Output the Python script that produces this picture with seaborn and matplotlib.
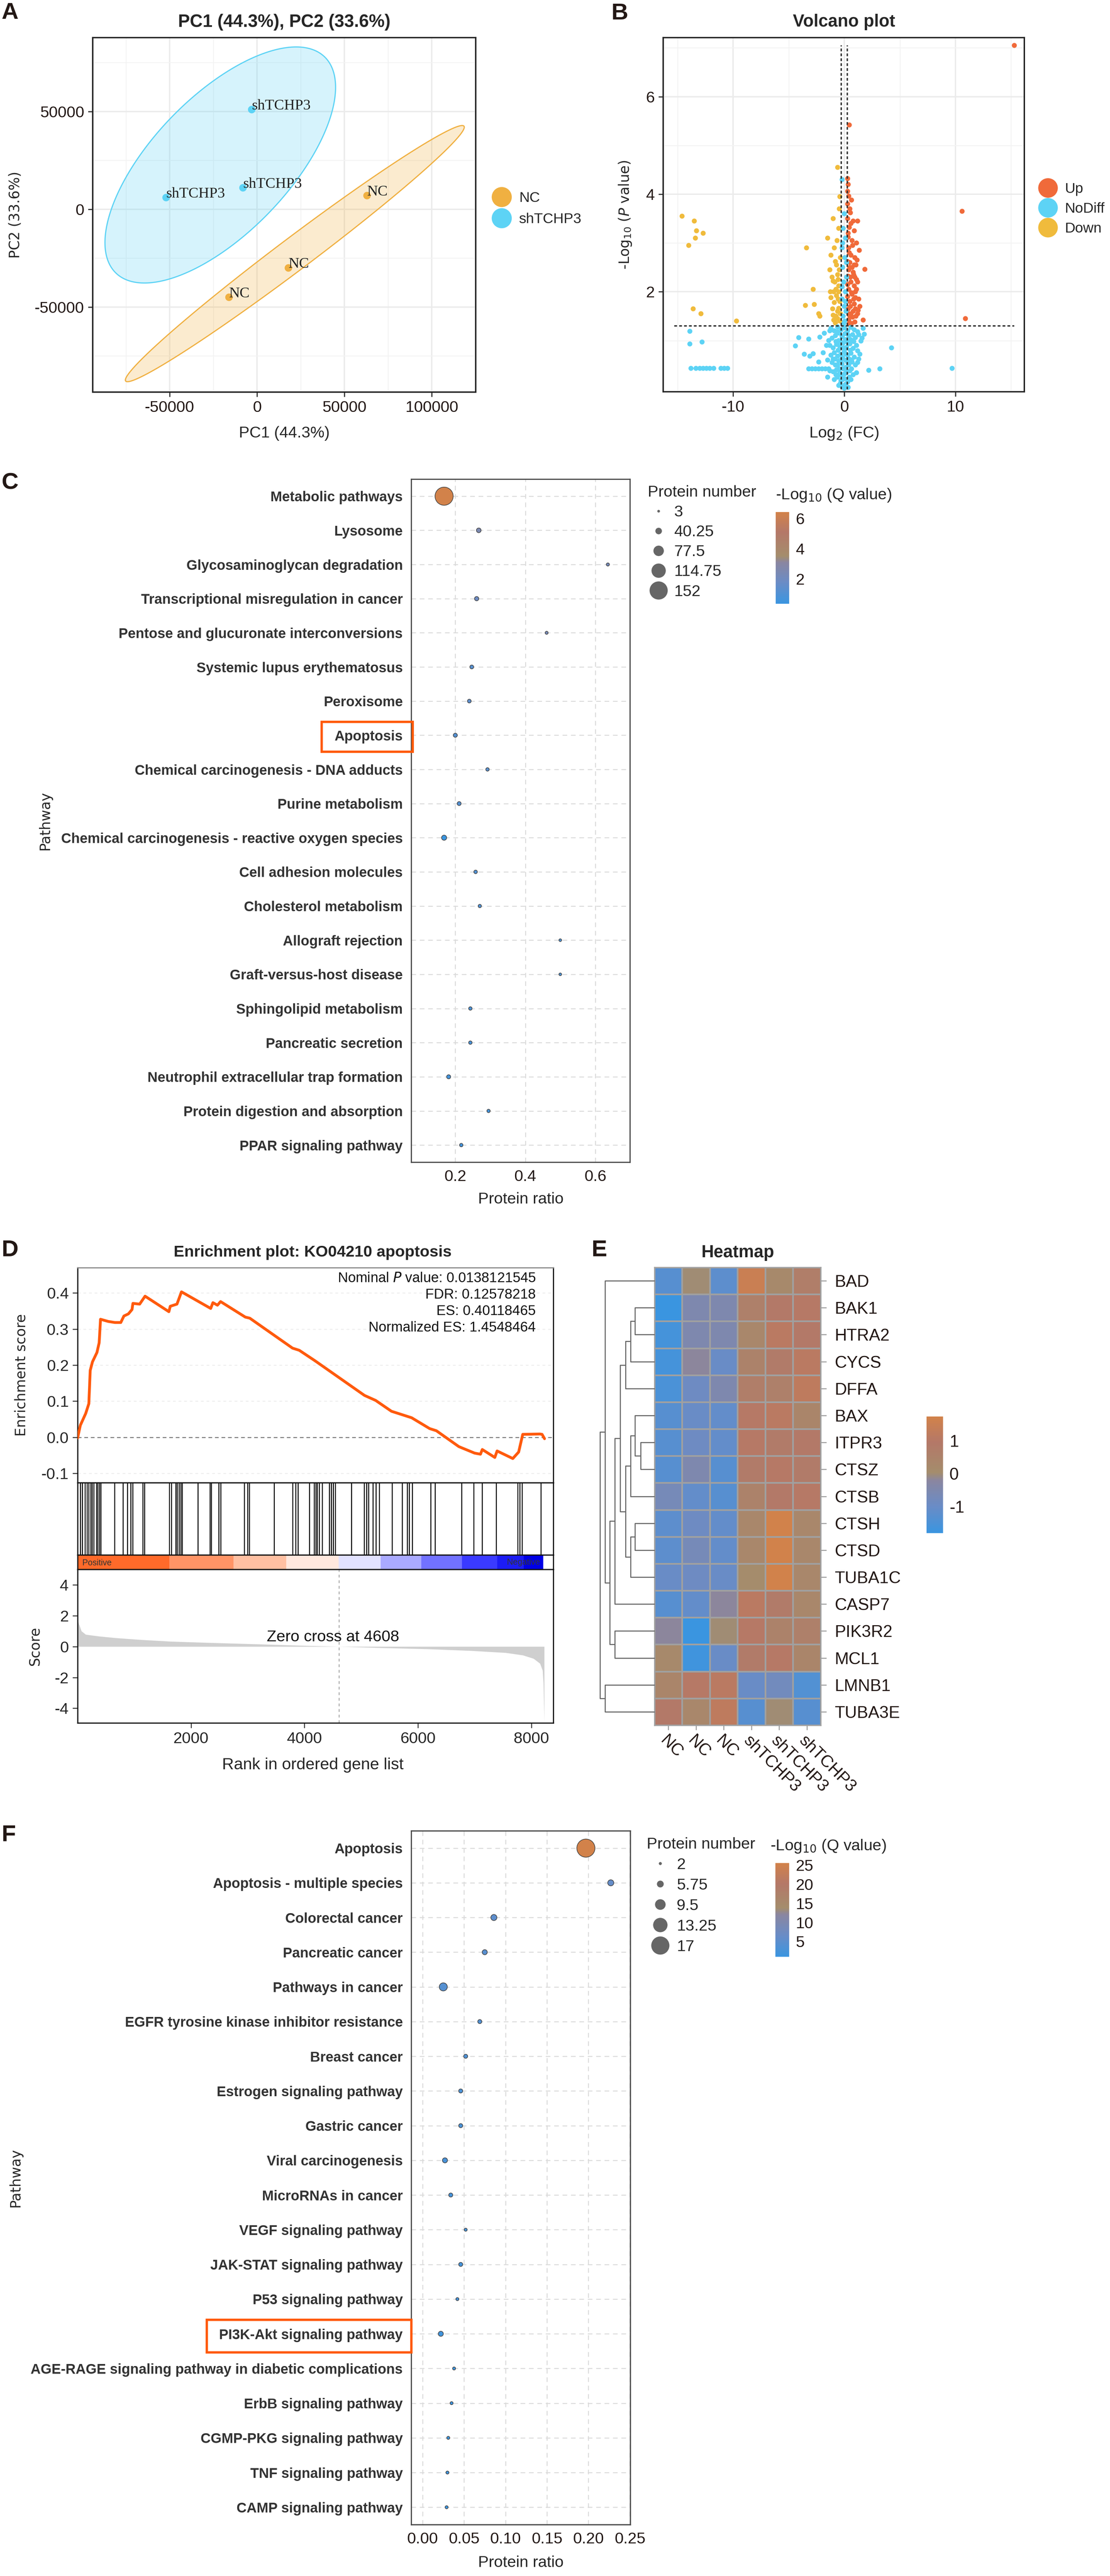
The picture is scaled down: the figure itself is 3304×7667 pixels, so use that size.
import numpy as np
import pandas as pd
import matplotlib
matplotlib.use("Agg")
import matplotlib.pyplot as plt
from matplotlib.colors import LinearSegmentedColormap, Normalize
from matplotlib.cm import ScalarMappable
from matplotlib.lines import Line2D
from matplotlib.patches import Rectangle
import seaborn as sns

sns.set_theme(style="white")
NARROW = ["Liberation Sans Narrow", "Liberation Sans", "DejaVu Sans"]
SANS = ["DejaVu Sans"]
ARIAL = ["Liberation Sans", "DejaVu Sans"]
SERIF = ["Liberation Serif", "DejaVu Serif"]
plt.rcParams["font.family"] = NARROW
plt.rcParams["mathtext.fontset"] = "dejavusans"
plt.rcParams["axes.unicode_minus"] = False

# ---------------- data ----------------
# A: PCA
pca_pc1 = [63000, 18000, -16000, -3000, -8000, -52000]
pca_pc2 = [7000, -30000, -45000, 51000, 11000, 6000]
pca_group = ["NC", "NC", "NC", "shTCHP3", "shTCHP3", "shTCHP3"]
group_colors = {"NC": "#F0B041", "shTCHP3": "#5DD3F5"}

# B: volcano (log2 FC, -log10 P)
up_pts = [(15.3, 7.05), (0.45, 5.42), (10.6, 3.65), (10.9, 1.45),
          (0.3, 4.32), (0.35, 4.2), (0.3, 4.06), (0.4, 3.96), (0.65, 3.88), (0.3, 3.8),
          (0.55, 3.62), (0.3, 3.5), (0.8, 3.45), (1.2, 3.45), (0.45, 3.32), (0.9, 3.25),
          (0.35, 3.12), (0.7, 3.05), (1.1, 3.0), (0.4, 2.9), (1.35, 2.85), (0.6, 2.75),
          (0.95, 2.7), (0.3, 2.62), (1.05, 2.55), (0.5, 2.5), (1.85, 2.46), (0.8, 2.4),
          (0.35, 2.32), (1.1, 2.25), (0.6, 2.2), (0.9, 2.12), (0.4, 2.05), (1.0, 2.0),
          (0.7, 1.95), (0.3, 1.9), (1.3, 1.85), (0.5, 1.8), (0.9, 1.75), (1.4, 1.7),
          (0.35, 1.65), (0.8, 1.6), (1.2, 1.55), (0.5, 1.5), (1.7, 1.42), (0.4, 1.42),
          (0.95, 1.38), (0.6, 3.4), (0.75, 2.95), (1.15, 2.65), (0.45, 2.8), (0.85, 2.35),
          (0.3, 2.15), (0.65, 1.98), (1.0, 1.88), (0.55, 1.7), (1.25, 1.62), (0.4, 1.55),
          (0.75, 1.48), (0.5, 2.6), (0.95, 2.3), (0.35, 3.2), (0.5, 3.7), (1.1, 2.05),
          (0.65, 1.35), (0.45, 1.35), (1.05, 1.5), (0.7, 2.5), (1.2, 2.2), (0.9, 2.55),
          (0.55, 2.3), (1.0, 1.65), (0.6, 1.55), (0.85, 1.85), (0.4, 2.45)]
down_pts = [(-14.6, 3.55), (-13.5, 3.45), (-13.3, 3.25), (-12.7, 3.2), (-13.4, 3.1),
            (-14.0, 2.95), (-13.6, 1.65), (-12.9, 1.55), (-9.7, 1.4),
            (-0.6, 4.55), (-0.4, 3.95), (-0.45, 3.7), (-1.0, 3.5), (-0.5, 3.3), (-1.5, 3.1),
            (-3.4, 2.9), (-1.2, 2.75), (-0.8, 2.62), (-1.3, 2.45), (-0.6, 2.35), (-1.0, 2.22),
            (-0.5, 2.12), (-2.8, 2.05), (-1.25, 2.0), (-0.7, 1.92), (-3.5, 1.72), (-2.7, 1.74),
            (-0.9, 1.78), (-0.5, 1.66), (-2.3, 1.55), (-2.2, 1.5), (-1.0, 1.52), (-0.6, 1.45),
            (-0.4, 1.4), (-0.8, 1.36), (-0.9, 2.9), (-0.7, 2.55), (-1.1, 2.3), (-0.35, 2.7),
            (-0.55, 1.85), (-1.05, 1.65), (-0.75, 2.05), (-0.45, 2.45), (-0.65, 3.05),
            (-0.95, 1.42), (-0.35, 1.55), (-1.2, 1.88), (-0.5, 2.0), (-0.85, 2.2), (-0.6, 1.6),
            (-0.4, 1.8), (-0.75, 1.5), (-0.55, 2.25), (-0.95, 2.0)]
nodiff_pts = [(-13.8, 0.43), (-13.35, 0.43), (-13.0, 0.43), (-12.7, 0.43), (-12.4, 0.43),
              (-12.1, 0.43), (-11.75, 0.43), (-11.1, 0.43), (-10.8, 0.43), (-10.5, 0.43),
              (-13.9, 1.19), (-13.9, 0.93), (-12.8, 0.97),
              (9.7, 0.43), (2.2, 0.39), (3.2, 0.42), (4.25, 0.85), (1.7, 1.25), (1.8, 1.13),
              (1.5, 0.99), (1.2, 0.79), (1.6, 1.05), (1.3, 0.62),
              (-4.1, 1.06), (-4.4, 0.89), (-3.2, 1.03), (-2.2, 1.07), (-3.6, 0.72), (-3.1, 0.68),
              (-2.8, 0.73), (-2.3, 0.56), (-1.5, 0.25), (-3.2, 0.42), (-2.9, 0.42), (-2.6, 0.42),
              (-2.3, 0.42), (-2.0, 0.42), (-1.7, 0.42), (-1.4, 0.42), (-1.9, 0.75), (-1.6, 0.9),
              (-1.8, 1.15), (-1.3, 1.2), (-1.5, 0.6),
              (-0.2, 4.3), (0.0, 3.6), (-0.1, 3.3), (0.1, 3.1), (-0.2, 2.9), (0.05, 2.7),
              (-0.15, 2.5), (0.2, 2.3), (-0.05, 2.2), (0.1, 2.0), (-0.2, 1.85), (0.0, 1.7),
              (0.15, 1.6), (-0.1, 1.5), (0.05, 1.4), (-0.15, 3.0), (0.2, 2.6), (-0.2, 2.1),
              (0.1, 1.8), (-0.05, 1.35),
              (-1.2, 1.25), (-0.9, 1.2), (-0.6, 1.28), (-0.3, 1.22), (0.0, 1.26), (0.3, 1.2),
              (0.6, 1.27), (0.9, 1.22), (1.2, 1.18), (-1.1, 1.05), (-0.8, 1.1), (-0.5, 1.0),
              (-0.2, 1.08), (0.1, 1.02), (0.4, 1.1), (0.7, 1.0), (1.0, 1.06), (1.3, 1.12),
              (-1.3, 0.9), (-1.0, 0.85), (-0.7, 0.92), (-0.4, 0.88), (-0.1, 0.95), (0.2, 0.86),
              (0.5, 0.93), (0.8, 0.84), (1.1, 0.9), (-1.2, 0.7), (-0.9, 0.75), (-0.6, 0.68),
              (-0.3, 0.72), (0.0, 0.78), (0.3, 0.7), (0.6, 0.74), (0.9, 0.66), (1.4, 0.72),
              (-1.1, 0.55), (-0.8, 0.5), (-0.5, 0.58), (-0.2, 0.52), (0.1, 0.6), (0.4, 0.5),
              (0.7, 0.56), (1.0, 0.5), (-1.3, 0.38), (-1.0, 0.36), (-0.7, 0.4), (-0.4, 0.33),
              (-0.1, 0.42), (0.2, 0.35), (0.5, 0.38), (0.8, 0.3), (1.1, 0.34), (-0.9, 0.2),
              (-0.6, 0.25), (-0.3, 0.18), (0.0, 0.22), (0.3, 0.15), (0.6, 0.2), (-0.5, 0.08),
              (-0.2, 0.05), (0.1, 0.1), (0.35, 0.04), (-0.35, 0.12), (0.0, 0.02),
              (-0.45, 1.15), (0.25, 1.15), (-0.75, 0.98), (0.55, 1.02), (-0.15, 0.65),
              (0.45, 0.62), (-0.55, 0.8), (0.15, 0.45), (-0.25, 0.3), (0.65, 0.42),
              (-0.85, 0.62), (0.85, 0.98), (-1.4, 1.0), (1.2, 0.55), (-0.05, 0.85), (0.35, 0.95),
              (-0.65, 1.18), (0.05, 1.14), (-0.35, 0.98), (0.25, 0.98), (-0.6, 0.5), (0.3, 0.55),
              (-0.45, 0.42), (0.05, 0.32), (-0.15, 0.2), (0.45, 0.25), (-0.75, 0.3), (0.75, 1.12),
              (-1.0, 0.62), (0.55, 0.8), (-0.3, 0.6), (0.15, 0.72), (-0.55, 0.95), (0.65, 0.6)]
volcano_colors = {"Up": "#F06A3A", "NoDiff": "#5DD3F5", "Down": "#F0BB3C"}
fc_cut = np.log2(1.2)
p_cut = -np.log10(0.05)

# C: KEGG enrichment of all differential proteins
c_pathways = ["Metabolic pathways", "Lysosome", "Glycosaminoglycan degradation",
              "Transcriptional misregulation in cancer", "Pentose and glucuronate interconversions",
              "Systemic lupus erythematosus", "Peroxisome", "Apoptosis",
              "Chemical carcinogenesis - DNA adducts", "Purine metabolism",
              "Chemical carcinogenesis - reactive oxygen species", "Cell adhesion molecules",
              "Cholesterol metabolism", "Allograft rejection", "Graft-versus-host disease",
              "Sphingolipid metabolism", "Pancreatic secretion",
              "Neutrophil extracellular trap formation", "Protein digestion and absorption",
              "PPAR signaling pathway"]
c_ratio = [0.168, 0.267, 0.636, 0.261, 0.461, 0.247, 0.240, 0.200, 0.292, 0.211,
           0.168, 0.258, 0.270, 0.500, 0.500, 0.243, 0.243, 0.181, 0.295, 0.217]
c_count = [152, 22, 7, 18, 6, 14, 13, 16, 10, 15, 26, 11, 9, 3, 3, 10, 10, 16, 9, 10]
c_logq = [6.42, 2.5, 2.2, 1.9, 2.3, 1.2, 1.4, 1.1, 1.2, 1.1, 0.36, 1.0, 1.0, 0.9, 0.9,
          0.9, 0.8, 0.7, 0.7, 0.6]

# D: GSEA apoptosis
es_rank = [0, 48, 143, 198, 222, 262, 341, 380, 404, 539, 658, 761, 816, 896, 959, 975,
           1094, 1189, 1609, 1633, 1751, 1831, 2346, 2385, 2465, 2520, 2956, 3035, 3788,
           3907, 4184, 5056, 5254, 5532, 5651, 5888, 6205, 6324, 6720, 6998, 7101, 7133,
           7354, 7394, 7671, 7774, 7846, 8147, 8187, 8230]
es_score = [-0.002, 0.033, 0.066, 0.093, 0.185, 0.209, 0.235, 0.262, 0.327, 0.321, 0.318,
            0.318, 0.336, 0.342, 0.354, 0.371, 0.369, 0.391, 0.348, 0.363, 0.369, 0.403,
            0.357, 0.373, 0.366, 0.376, 0.333, 0.330, 0.247, 0.241, 0.212, 0.116, 0.102,
            0.072, 0.066, 0.054, 0.024, 0.018, -0.026, -0.044, -0.047, -0.034, -0.056,
            -0.038, -0.059, -0.041, 0.008, 0.009, 0.008, -0.004]
hit_ranks = [45, 82, 128, 166, 196, 233, 256, 286, 332, 354, 385, 407, 649, 800, 876, 936,
             974, 1147, 1178, 1616, 1654, 1729, 1752, 1790, 1820, 1842, 2122, 2333, 2356,
             2485, 2522, 2938, 2998, 3028, 3467, 3792, 3844, 3882, 4086, 4169, 4199, 4222,
             4260, 4313, 4434, 4471, 4509, 4539, 4826, 5053, 5091, 5128, 5204, 5257, 5317,
             5544, 5718, 5808, 5846, 5899, 6224, 6299, 6768, 6979, 7130, 7380, 7757, 7795,
             7833, 8165]
strip_edges = [0, 1616, 2748, 3678, 4600, 5340, 6058, 6775, 7396, 7864, 8209]
strip_colors = ["#FF6A2A", "#FF9466", "#FFC0A2", "#FFE8DE", "#E2E2FF", "#AAAAFF",
                "#7272FF", "#3A3AFF", "#1C1CF4", "#0000E6"]
score_rank = [5, 67, 143, 370, 672, 1125, 1654, 2409, 3164, 3920, 4608, 5431, 6186, 6941,
              7546, 7848, 8037, 8150, 8195, 8210, 8218, 8225]
score_val = [1.65, 1.0, 0.78, 0.67, 0.56, 0.44, 0.33, 0.24, 0.16, 0.07, 0.0, -0.09, -0.16,
             -0.27, -0.4, -0.56, -0.78, -1.1, -1.55, -2.4, -3.8, -4.85]
zero_cross = 4608
gsea_stats = ["Nominal $\\it{P}$ value: 0.0138121545", "FDR: 0.12578218",
              "ES: 0.40118465", "Normalized ES: 1.4548464"]

# E: heatmap (row z-scores)
hm_genes = ["BAD", "BAK1", "HTRA2", "CYCS", "DFFA", "BAX", "ITPR3", "CTSZ", "CTSB", "CTSH",
            "CTSD", "TUBA1C", "CASP7", "PIK3R2", "MCL1", "LMNB1", "TUBA3E"]
hm_samples = ["NC", "NC", "NC", "shTCHP3", "shTCHP3", "shTCHP3"]
hm_values = [[-1.3, 0.0, -1.2, 1.5, 0.2, 0.7],
             [-1.8, -0.5, -0.5, 0.6, 0.9, 1.0],
             [-1.6, -0.5, -0.5, 0.3, 1.1, 0.9],
             [-1.6, -0.2, -1.0, 0.5, 0.8, 1.1],
             [-1.5, -0.9, -0.5, 0.7, 0.6, 1.2],
             [-1.3, -1.0, -1.1, 1.0, 1.1, 0.4],
             [-1.3, -0.9, -1.1, 1.0, 0.8, 0.9],
             [-1.3, -0.5, -1.3, 0.8, 1.0, 0.8],
             [-0.7, -1.1, -1.3, 0.5, 0.9, 1.0],
             [-1.2, -0.9, -1.1, 0.3, 1.7, 0.3],
             [-1.2, -0.7, -1.1, 0.3, 1.7, 0.3],
             [-1.0, -0.9, -1.0, 0.1, 1.7, 0.3],
             [-1.3, -1.1, -0.2, 1.1, 0.8, 0.3],
             [-0.2, -1.8, 0.0, 1.0, 0.5, 0.6],
             [0.2, -1.7, -1.0, 0.8, 1.0, 0.4],
             [0.4, 1.0, 1.1, -1.0, -0.8, -1.4],
             [0.9, 0.3, 1.2, -1.3, 0.0, -1.3]]
# row dendrogram: (child, child, height); clusters named c0, c1, ...
dend_merges = [("ITPR3", "CTSZ", 0.42), ("BAK1", "HTRA2", 0.59), ("BAX", "c0", 0.59),
               ("CTSH", "CTSD", 0.59), ("c1", "CYCS", 0.72), ("c2", "CTSB", 0.72),
               ("c3", "TUBA1C", 0.72), ("c4", "DFFA", 0.87), ("c5", "c6", 0.87),
               ("c7", "c8", 1.03), ("c9", "CASP7", 1.19), ("PIK3R2", "MCL1", 1.19),
               ("c10", "c11", 1.34), ("BAD", "c12", 1.48), ("LMNB1", "TUBA3E", 1.48),
               ("c13", "c14", 1.63)]

# F: KEGG enrichment of apoptosis-related proteins
f_pathways = ["Apoptosis", "Apoptosis - multiple species", "Colorectal cancer",
              "Pancreatic cancer", "Pathways in cancer",
              "EGFR tyrosine kinase inhibitor resistance", "Breast cancer",
              "Estrogen signaling pathway", "Gastric cancer", "Viral carcinogenesis",
              "MicroRNAs in cancer", "VEGF signaling pathway", "JAK-STAT signaling pathway",
              "P53 signaling pathway", "PI3K-Akt signaling pathway",
              "AGE-RAGE signaling pathway in diabetic complications", "ErbB signaling pathway",
              "CGMP-PKG signaling pathway", "TNF signaling pathway", "CAMP signaling pathway"]
f_ratio = [0.197, 0.227, 0.086, 0.075, 0.025, 0.069, 0.052, 0.046, 0.046, 0.027,
           0.034, 0.052, 0.046, 0.042, 0.022, 0.038, 0.035, 0.031, 0.030, 0.029]
f_count = [17, 5, 5, 4, 7, 3, 3, 3, 3, 4, 3, 2, 3, 2, 4, 2, 2, 2, 2, 2]
f_logq = [25.5, 6.0, 5.2, 4.6, 4.2, 3.8, 3.4, 3.2, 3.0, 2.8, 2.6, 2.4, 2.2, 2.0, 1.8,
          1.6, 1.4, 1.3, 1.2, 1.0]

cmap = LinearSegmentedColormap.from_list(
    "bluebrown", [(0.0, "#3A95E0"), (0.23, "#6A8CC6"), (0.45, "#8A86A0"),
                  (0.52, "#A48D6C"), (0.78, "#B47868"), (1.0, "#D2824A")])

# ---------------- figure ----------------
W, H = 3305, 7667
fig = plt.figure(figsize=(W / 100, H / 100), dpi=100)
TICK, LAB, LEG, PANEL = 34, 34, 31, 50
PATH_FS = 30


def add_ax(l, t, r, b):
    return fig.add_axes([l / W, 1 - b / H, (r - l) / W, (b - t) / H])


def ftext(x, y, s, **kw):
    return fig.text(x / W, 1 - y / H, s, **kw)


def frame(ax, color="#222222", lw=2.5):
    for sp in ax.spines.values():
        sp.set_visible(True)
        sp.set_color(color)
        sp.set_linewidth(lw)


def norm_ellipse(x, y, chi2=5.991, n=240):
    x = np.asarray(x, float)
    y = np.asarray(y, float)
    vals, vecs = np.linalg.eigh(np.cov(x, y))
    t = np.linspace(0, 2 * np.pi, n)
    circ = np.vstack([np.cos(t), np.sin(t)])
    pts = vecs @ (np.sqrt(vals * chi2)[:, None] * circ)
    return pts[0] + x.mean(), pts[1] + y.mean()


def size_dict(counts, d_lo, d_hi):
    lo, hi = min(counts), max(counts)
    return {n: ((d_lo + (n - lo) / (hi - lo) * (d_hi - d_lo)) * 0.72) ** 2 for n in set(counts)}


for lab, x, y in [("A", 4, 38), ("B", 1819, 40), ("C", 4, 1437), ("D", 4, 3721),
                  ("E", 1760, 3721), ("F", 4, 5462)]:
    ftext(x, y, lab, fontsize=PANEL, fontweight="bold", ha="left", va="center", color="#231815")

# ---- A: PCA ----
axA = add_ax(276, 112, 1416, 1167)
pca = pd.DataFrame({"PC1": pca_pc1, "PC2": pca_pc2, "group": pca_group})
for g, sub in pca.groupby("group"):
    ex, ey = norm_ellipse(sub.PC1, sub.PC2)
    axA.fill(ex, ey, color=group_colors[g], alpha=0.25, lw=0, zorder=2)
    axA.plot(ex, ey, color=group_colors[g], lw=2.5, zorder=3)
sns.scatterplot(data=pca, x="PC1", y="PC2", hue="group", palette=group_colors, s=260,
                edgecolor="none", legend=False, ax=axA, zorder=4)
for x, y, g in zip(pca_pc1, pca_pc2, pca_group):
    axA.text(x, y, g, family=SERIF, fontsize=32, color="#222222", ha="left", va="baseline", zorder=5)
axA.set_xlim(-94000, 125200)
axA.set_ylim(-93500, 87800)
axA.set_xticks([-50000, 0, 50000, 100000])
axA.set_xticks([-75000, -25000, 25000, 75000], minor=True)
axA.set_yticks([-50000, 0, 50000])
axA.set_yticks([-75000, -25000, 25000, 75000], minor=True)

# ---- B: volcano ----
axB = add_ax(1974, 112, 3049, 1166)
vdf = pd.concat([pd.DataFrame(up_pts, columns=["fc", "p"]).assign(cls="Up"),
                 pd.DataFrame(down_pts, columns=["fc", "p"]).assign(cls="Down"),
                 pd.DataFrame(nodiff_pts, columns=["fc", "p"]).assign(cls="NoDiff")])
sns.scatterplot(data=vdf, x="fc", y="p", hue="cls", palette=volcano_colors, s=115,
                edgecolor="none", legend=False, ax=axB, zorder=3)
axB.vlines([-fc_cut, fc_cut], 0, vdf.p.max(), colors="#333333", lw=3, ls=(0, (2, 1.5)), zorder=5)
axB.hlines(p_cut, vdf.fc.min() - 0.7, vdf.fc.max(), colors="#333333", lw=3, ls=(0, (2, 1.5)), zorder=5)
axB.set_xlim(-16.3, 16.2)
axB.set_ylim(-0.05, 7.21)
axB.set_xticks([-10, 0, 10])
axB.set_xticks([-15, -5, 5, 15], minor=True)
axB.set_yticks([2, 4, 6])
axB.set_yticks([1, 3, 5, 7], minor=True)

for ax in (axA, axB):
    ax.set_xlabel("")
    ax.set_ylabel("")
    ax.grid(which="major", color="#EBEBEB", lw=3)
    ax.grid(which="minor", color="#F3F3F3", lw=1.8)
    ax.set_axisbelow(True)
    frame(ax, "#222222", 3)
    ax.tick_params(which="major", length=10, width=2.5, color="#333333", labelsize=TICK,
                   pad=8, left=True, bottom=True, labelcolor="#231815")
    ax.tick_params(which="minor", length=0)

ftext(846, 66, "PC1 (44.3%), PC2 (33.6%)", fontsize=38, fontweight="bold", ha="center", va="center")
ftext(846, 1290, "PC1 (44.3%)", fontsize=LAB, ha="center", va="center")
ftext(46, 640, "PC2 (33.6%)", family=SANS, fontsize=30, rotation=90, ha="center", va="center")
ftext(2512, 65, "Volcano plot", fontsize=37, fontweight="bold", ha="center", va="center")
ftext(2512, 1290, "Log$_2$ (FC)", fontsize=LAB, ha="center", va="center")
ftext(1861, 640, "-Log$_{10}$ ($\\it{P}$ value)", family=SANS, fontsize=30, rotation=90,
      ha="center", va="center")

hA = [Line2D([0], [0], marker="o", ls="none", markersize=43, markerfacecolor=group_colors[g],
             markeredgecolor="none") for g in ["NC", "shTCHP3"]]
axA.legend(hA, ["NC", "shTCHP3"], loc="center left", bbox_to_anchor=(1.043, 0.517),
           frameon=False, borderpad=0, borderaxespad=0, handlelength=1.3, handletextpad=0.56,
           labelspacing=0.55, fontsize=LEG)
hB = [Line2D([0], [0], marker="o", ls="none", markersize=42, markerfacecolor=volcano_colors[c],
             markeredgecolor="none") for c in ["Up", "NoDiff", "Down"]]
axB.legend(hB, ["Up", "NoDiff", "Down"], loc="center left", bbox_to_anchor=(1.039, 0.516),
           frameon=False, borderpad=0, borderaxespad=0, handlelength=1.3, handletextpad=0.53,
           labelspacing=0.44, fontsize=LEG)


# ---- C and F: bubble plots ----
def bubble(ax, cax, names, ratio, count, logq, vmin, vmax, xlim, xticks, xlabels,
           d_lo, d_hi, cticks, leg_xy, hl, hp, ls):
    pos = np.arange(len(names))
    sdict = size_dict(count, d_lo, d_hi)
    sns.scatterplot(x=ratio, y=pos, hue=logq, palette=cmap, hue_norm=(vmin, vmax),
                    size=count, sizes=sdict, legend=False, edgecolor="#404040",
                    linewidth=1.3, ax=ax, zorder=3)
    ax.set_ylim(len(names) - 0.5, -0.5)
    ax.set_xlim(*xlim)
    ax.set_yticks(pos)
    ax.set_yticklabels(names, fontweight="bold", color="#333333", fontsize=PATH_FS)
    ax.set_xticks(xticks)
    ax.set_xticklabels(xlabels)
    ax.grid(True, color="#DADADA", lw=2, ls=(0, (5, 4)))
    ax.set_axisbelow(True)
    frame(ax, "#444444", 2.5)
    ax.tick_params(axis="y", length=0, pad=18)
    ax.tick_params(axis="x", length=0, pad=16, labelsize=TICK, labelcolor="#231815")
    lo, hi = min(count), max(count)
    breaks = np.linspace(lo, hi, 5)
    handles = [Line2D([0], [0], marker="o", ls="none", markerfacecolor="#666666",
                      markeredgecolor="none",
                      markersize=(d_lo + (b - lo) / (hi - lo) * (d_hi - d_lo)) * 0.72)
               for b in breaks]
    labels = [f"{b:g}" for b in breaks]
    leg = ax.legend(handles, labels, title="Protein number", loc="upper left",
                    bbox_to_anchor=(leg_xy[0] / W, 1 - leg_xy[1] / H),
                    bbox_transform=fig.transFigure, frameon=False, borderpad=0,
                    borderaxespad=0, handlelength=hl, handletextpad=hp, labelspacing=ls,
                    fontsize=LAB, title_fontsize=LAB)
    leg._legend_box.align = "left"
    cb = fig.colorbar(ScalarMappable(norm=Normalize(vmin, vmax), cmap=cmap), cax=cax)
    cb.outline.set_visible(False)
    cb.set_ticks(cticks)
    cax.tick_params(direction="in", length=9, width=2, color="white", left=True, right=True,
                    labelsize=LAB, pad=14, labelcolor="#231815")


axC = add_ax(1224, 1426, 1875, 3459)
caxC = add_ax(2309, 1524, 2349, 1797)
bubble(axC, caxC, c_pathways, c_ratio, c_count, c_logq, 0.36, 6.42, (0.074, 0.699),
       [0.2, 0.4, 0.6], ["0.2", "0.4", "0.6"], 8, 54, [2, 4, 6], (1928, 1444), 1.36, 0.3, 0.32)
ftext(2309, 1474, "-Log$_{10}$ (Q value)", fontsize=LAB, ha="left", va="center")
ftext(1550, 3570, "Protein ratio", fontsize=LAB, ha="center", va="center")
ftext(134, 2442, "Pathway", family=SANS, fontsize=30, rotation=90, ha="center", va="center")
fig.add_artist(Rectangle((957 / W, 1 - 2237 / H), (1228 - 957) / W, (2237 - 2148) / H,
                         transform=fig.transFigure, fill=False, ec="#FF5A0A", lw=5))

axF = add_ax(1224, 5449, 1876, 7514)
caxF = add_ax(2308, 5545, 2349, 5824)
bubble(axF, caxF, f_pathways, f_ratio, f_count, f_logq, 1.0, 25.5, (-0.0137, 0.2505),
       [0, 0.05, 0.10, 0.15, 0.20, 0.25], ["0.00", "0.05", "0.10", "0.15", "0.20", "0.25"],
       9, 54, [5, 10, 15, 20, 25], (1925, 5468), 1.7, 0.19, 0.36)
ftext(2293, 5495, "-Log$_{10}$ (Q value)", fontsize=LAB, ha="left", va="center")
ftext(1550, 7628, "Protein ratio", fontsize=LAB, ha="center", va="center")
ftext(46, 6481, "Pathway", family=SANS, fontsize=30, rotation=90, ha="center", va="center")
fig.add_artist(Rectangle((615 / W, 1 - 7001 / H), (1224 - 615) / W, (7001 - 6904) / H,
                         transform=fig.transFigure, fill=False, ec="#FF5A0A", lw=5))

# ---- D: GSEA ----
XMAX = 8385
axES = add_ax(231, 3773, 1647, 4413)
axHit = add_ax(231, 4413, 1647, 4628)
axStrip = add_ax(231, 4628, 1647, 4671)
axSc = add_ax(231, 4671, 1647, 5128)
for ax in (axES, axHit, axStrip, axSc):
    ax.set_xlim(0, XMAX)
    frame(ax, "#111111", 2.5)
axES.spines["top"].set_color("#888888")

for v in [0.4, 0.3, 0.2, 0.1, -0.1]:
    axES.axhline(v, color="#EEEEEE", lw=2, ls=(0, (3, 3)), zorder=0)
axES.axhline(0, color="#777777", lw=2, ls=(0, (4, 3)), zorder=1)
sns.lineplot(x=es_rank, y=es_score, ax=axES, color="#FF5A0D", linewidth=6, zorder=3)
axES.set_ylim(-0.126, 0.47)
axES.set_yticks([-0.1, 0.0, 0.1, 0.2, 0.3, 0.4])
axES.set_yticklabels(["-0.1", "0.0", "0.1", "0.2", "0.3", "0.4"])
axES.tick_params(axis="y", left=True, length=11, width=2, color="#333333", labelsize=TICK, pad=8)
axES.tick_params(axis="x", bottom=False, labelbottom=False)
for i, s in enumerate(gsea_stats):
    axES.text(0.963, 0.95 - i * 0.0765, s, transform=axES.transAxes, ha="right", va="center",
              fontsize=30, color="#111111")

axHit.vlines(hit_ranks, 0, 1, colors="black", lw=2)
axHit.set_ylim(0, 1)
axHit.set_xticks([])
axHit.set_yticks([])

axStrip.bar(strip_edges[:-1], 1, width=np.diff(strip_edges), align="edge", color=strip_colors, lw=0)
axStrip.set_ylim(0, 1)
axStrip.set_xticks([])
axStrip.set_yticks([])
axStrip.text(83, 0.45, "Positive", fontsize=18, color="#333333", ha="left", va="center")
axStrip.text(8150, 0.5, "Negative", fontsize=18, color="#333333", ha="right", va="center")

axSc.fill_between(score_rank, score_val, 0, color="#CFCFCF", lw=0)
axSc.axvline(zero_cross, color="#AAAAAA", lw=2, ls=(0, (3, 3)))
axSc.text(zero_cross - 107, 0.61, f"Zero cross at {zero_cross}", fontsize=LAB, ha="center",
          va="center", color="#111111")
axSc.set_ylim(-4.95, 5.0)
axSc.set_yticks([-4, -2, 0, 2, 4])
axSc.set_xticks([2000, 4000, 6000, 8000])
axSc.tick_params(left=True, bottom=True, length=11, width=2, color="#333333", labelsize=TICK, pad=8)

ftext(931, 3728, "Enrichment plot: KO04210 apoptosis", fontsize=34, fontweight="bold",
      ha="center", va="center")
ftext(64, 4093, "Enrichment score", family=SANS, fontsize=30, rotation=90, ha="center", va="center")
ftext(105, 4900, "Score", family=SANS, fontsize=30, rotation=90, ha="center", va="center")
ftext(931, 5253, "Rank in ordered gene list", fontsize=35, ha="center", va="center")

# ---- E: heatmap ----
axHM = add_ax(1948, 3772, 2443, 5135)
caxHM = add_ax(2758, 4216, 2807, 4563)
axDen = add_ax(1770, 3772, 1949, 5135)
hm = pd.DataFrame(hm_values, index=hm_genes)
sns.heatmap(hm, ax=axHM, cmap=cmap, vmin=-1.8, vmax=1.73, linewidths=2.5, linecolor="#A0A0A0",
            cbar_ax=caxHM, cbar_kws={"ticks": [-1, 0, 1]}, xticklabels=hm_samples,
            yticklabels=hm_genes)
axHM.yaxis.tick_right()
axHM.set_yticklabels(hm_genes, rotation=0, family=ARIAL, fontsize=36, color="#231815")
axHM.set_xticklabels(hm_samples, rotation=-45, ha="left", va="top", rotation_mode="anchor",
                     family=ARIAL, fontsize=36, color="#231815")
axHM.tick_params(axis="y", right=True, left=False, length=12, width=2, color="#999999", pad=18)
axHM.tick_params(axis="x", bottom=True, length=10, width=2, color="#999999", pad=6)
for sp in axHM.spines.values():
    sp.set_visible(True)
    sp.set_color("#A0A0A0")
    sp.set_linewidth(2.5)
cbE = axHM.collections[0].colorbar
cbE.outline.set_visible(False)
caxHM.tick_params(direction="in", length=9, width=2, color="white", left=True, right=True,
                  labelsize=36, pad=14, labelcolor="#231815")
for t in caxHM.get_yticklabels():
    t.set_family(ARIAL)

pos = {g: (i + 0.5, 0.0) for i, g in enumerate(hm_genes)}
for k, (a, b, h) in enumerate(dend_merges):
    ya, ha_ = pos[a]
    yb, hb = pos[b]
    axDen.plot([ha_, h, h, hb], [ya, ya, yb, yb], color="#666666", lw=2.2, solid_capstyle="butt")
    pos[f"c{k}"] = ((ya + yb) / 2, h)
axDen.set_xlim(1.79, 0)
axDen.set_ylim(len(hm_genes), 0)
axDen.axis("off")
ftext(2196, 3728, "Heatmap", fontsize=37, fontweight="bold", ha="center", va="center")

fig.savefig("out.png", dpi=100, facecolor="white")
